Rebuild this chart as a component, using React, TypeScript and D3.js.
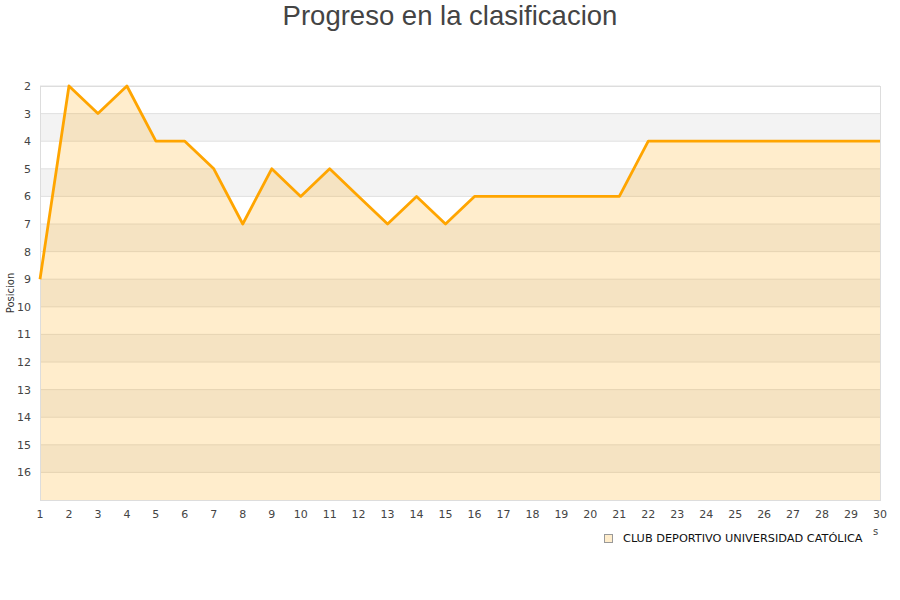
import { useRef, useEffect } from "react";
import * as d3 from "d3";

const rounds = d3.range(1, 31);
const positions = [9, 2, 3, 2, 4, 4, 5, 7, 5, 6, 5, 6, 7, 6, 7, 6, 6, 6, 6, 6, 6, 4, 4, 4, 4, 4, 4, 4, 4, 4];
const yTicks = d3.range(2, 17);
const teamName = "CLUB DEPORTIVO UNIVERSIDAD CATÓLICA";

export default function App() {
  const svgRef = useRef<SVGSVGElement>(null);

  useEffect(() => {
    if (!svgRef.current) return;
    const svg = d3.select(svgRef.current);
    svg.selectAll("*").remove();
    const width = 900;
    const left = 40;
    const right = 880;
    const top = 86;
    const bottom = 500;
    const font = "DejaVu Sans, sans-serif";

    const x = d3.scaleLinear().domain([1, 30]).range([left, right]);
    const y = d3.scaleLinear().domain([2, 17]).range([top, bottom]);

    // alternating bands
    svg
      .append("g")
      .selectAll("rect")
      .data(d3.range(2, 17))
      .enter()
      .append("rect")
      .attr("x", left)
      .attr("width", right - left)
      .attr("y", (d) => y(d))
      .attr("height", (d) => y(d + 1) - y(d))
      .attr("fill", (d) => (d % 2 === 1 ? "#f3f3f3" : "#ffffff"));

    // grid lines
    svg
      .append("g")
      .selectAll("line")
      .data(yTicks)
      .enter()
      .append("line")
      .attr("x1", left)
      .attr("x2", right)
      .attr("y1", (d) => y(d))
      .attr("y2", (d) => y(d))
      .attr("stroke", "#e0e0e0")
      .attr("stroke-width", 1);

    const data = rounds.map((r, i) => ({ r, p: positions[i] }));

    const area = d3
      .area<{ r: number; p: number }>()
      .x((d) => x(d.r))
      .y0(bottom)
      .y1((d) => y(d.p));
    svg
      .append("path")
      .datum(data)
      .attr("d", area)
      .attr("fill", "#ffa500")
      .attr("fill-opacity", 0.2);

    // border
    svg
      .append("rect")
      .attr("x", left + 0.5)
      .attr("y", top + 0.5)
      .attr("width", right - left)
      .attr("height", bottom - top)
      .attr("fill", "none")
      .attr("stroke", "#dddddd");

    const line = d3
      .line<{ r: number; p: number }>()
      .x((d) => x(d.r))
      .y((d) => y(d.p));
    svg
      .append("path")
      .datum(data)
      .attr("d", line)
      .attr("fill", "none")
      .attr("stroke", "#ffa500")
      .attr("stroke-width", 2.8)
      .attr("stroke-linejoin", "round");

    // y tick labels
    svg
      .append("g")
      .selectAll("text")
      .data(yTicks)
      .enter()
      .append("text")
      .attr("x", 31)
      .attr("y", (d) => y(d) + 4)
      .attr("text-anchor", "end")
      .attr("font-family", font)
      .attr("font-size", 11)
      .attr("fill", "#444")
      .text((d) => d);

    // x tick labels
    svg
      .append("g")
      .selectAll("text")
      .data(rounds)
      .enter()
      .append("text")
      .attr("x", (d) => x(d))
      .attr("y", 518)
      .attr("text-anchor", "middle")
      .attr("font-family", font)
      .attr("font-size", 11)
      .attr("fill", "#444")
      .text((d) => d);

    svg
      .append("text")
      .attr("transform", "translate(14,293) rotate(-90)")
      .attr("text-anchor", "middle")
      .attr("font-family", font)
      .attr("font-size", 10)
      .attr("fill", "#333")
      .text("Posicion");

    svg
      .append("text")
      .attr("x", width / 2)
      .attr("y", 25)
      .attr("text-anchor", "middle")
      .attr("font-family", "Liberation Sans, Arial, sans-serif")
      .attr("font-size", 27.5)
      .attr("fill", "#444")
      .text("Progreso en la clasificacion");

    // legend
    svg
      .append("rect")
      .attr("x", 604.5)
      .attr("y", 534.5)
      .attr("width", 8)
      .attr("height", 8)
      .attr("fill", "#ffedcc")
      .attr("stroke", "#999");
    svg
      .append("text")
      .attr("x", 623)
      .attr("y", 542)
      .attr("font-family", font)
      .attr("font-size", 11.3)
      .attr("fill", "#111")
      .text(teamName);

    svg
      .append("text")
      .attr("x", 873)
      .attr("y", 535)
      .attr("font-family", font)
      .attr("font-size", 10)
      .attr("fill", "#444")
      .text("s");
  }, []);

  return (
    <svg
      ref={svgRef}
      width={900}
      height={600}
      style={{ position: "absolute", left: 0, top: 0, background: "#fff" }}
    />
  );
}
